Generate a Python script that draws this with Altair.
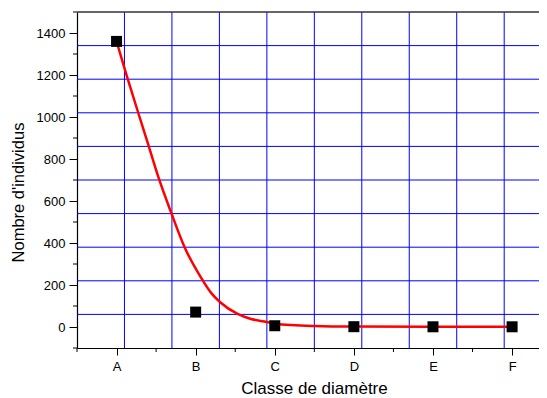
import altair as alt
import pandas as pd

# Diameter classes and observed counts (black squares)
classes = ["A", "B", "C", "D", "E", "F"]
counts = [1360, 71, 6, 1.5, 1, 1]

# Points
fit_x = [1.00, 1.13, 1.27, 1.39, 1.53, 1.69, 1.86, 2.06, 2.20, 2.31, 2.53, 2.69, 2.90, 3.00, 3.50, 4.00, 5.00, 6.00]
fit_y = [1360, 1195, 1025, 882, 712, 545, 380, 240, 160, 118, 62, 39, 24, 16, 5, 2, 1, 1]

# Axis tick values and grid-line values
x_major = [1, 2, 3, 4, 5, 6]
x_minor = [0.5, 1.5, 2.5, 3.5, 4.5, 5.5]
y_major = [0, 200, 400, 600, 800, 1000, 1200, 1400]
y_minor = [-100, 100, 300, 500, 700, 900, 1100, 1300, 1500]
grid_x = [1.1, 1.7, 2.3, 2.9, 3.5, 4.1, 4.7, 5.3, 5.9]
grid_y = [60, 220, 380, 540, 700, 860, 1020, 1180, 1340]
y_top = [1500]

pts = pd.DataFrame({"pos": x_major, "classe": classes, "n": counts})
fit = pd.DataFrame({"x": fit_x, "y": fit_y})

W, H = 462, 336
xscale = alt.Scale(domain=[0.5, 6.34], nice=False, zero=False)
yscale = alt.Scale(domain=[-100, 1500], nice=False, zero=False)

label_arr = "[" + ",".join("'%s'" % c for c in classes) + "]"
x_label_expr = "datum.value >= 1 && datum.value <= 6 ? %s[datum.value - 1] : ''" % label_arr

x_axis = alt.Axis(
    values=x_major,
    tickSize=7,
    labelPadding=5,
    labelExpr=x_label_expr,
    labelOverlap=False,
    labelFlush=False,
    title="Classe de diamètre",
    titleX=237,
    titleY=45.5,
    titleBaseline="alphabetic",
    titleFontSize=17,
)
y_axis = alt.Axis(
    values=y_major,
    tickSize=8,
    labelPadding=4,
    format="d",
    labelOverlap=False,
    labelFlush=False,
    title="Nombre d'individus",
    titleX=-54,
    titleY=180,
    titleBaseline="alphabetic",
)

grid_v = alt.Chart(pd.DataFrame({"v": grid_x})).mark_rule(color="#0000ff", strokeWidth=1).encode(
    x=alt.X("v:Q", scale=xscale, axis=x_axis)
)
grid_h = alt.Chart(pd.DataFrame({"v": grid_y})).mark_rule(color="#0000ff", strokeWidth=1).encode(
    y=alt.Y("v:Q", scale=yscale, axis=y_axis)
)
top_border = alt.Chart(pd.DataFrame({"v": y_top})).mark_rule(color="#333333", strokeWidth=1.5).encode(
    y=alt.Y("v:Q", scale=yscale, axis=y_axis)
)
minor_x = alt.Chart(pd.DataFrame({"v": x_minor})).mark_rule(color="black", strokeWidth=1).encode(
    x=alt.X("v:Q", scale=xscale, axis=x_axis),
    y=alt.value(H),
    y2=alt.value(H + 4),
)
minor_y = alt.Chart(pd.DataFrame({"v": y_minor})).mark_rule(color="black", strokeWidth=1).encode(
    y=alt.Y("v:Q", scale=yscale, axis=y_axis),
    x=alt.value(0),
    x2=alt.value(-4),
)
curve = alt.Chart(fit).mark_line(color="#ff0000", strokeWidth=2.5, interpolate="monotone").encode(
    x=alt.X("x:Q", scale=xscale, axis=x_axis),
    y=alt.Y("y:Q", scale=yscale, axis=y_axis),
)
points = alt.Chart(pts).mark_square(color="black", size=121, opacity=1, filled=True).encode(
    x=alt.X("pos:Q", scale=xscale, axis=x_axis),
    y=alt.Y("n:Q", scale=yscale, axis=y_axis),
)

chart = (
    alt.layer(grid_v, grid_h, top_border, minor_x, minor_y, curve, points)
    .properties(
        width=W,
        height=H,
        autosize=alt.AutoSizeParams(type="none"),
        padding={"left": 69, "top": 4, "right": 0, "bottom": 50},
    )
    .configure_view(strokeWidth=0)
    .configure_axis(
        grid=False,
        domainColor="black",
        domainWidth=1.2,
        tickColor="black",
        tickWidth=1,
        labelColor="black",
        labelFont="Liberation Sans",
        labelFontSize=13,
        titleFont="Liberation Sans",
        titleFontSize=16.5,
        titleFontWeight="normal",
        titleColor="black",
    )
)

chart.save("out.html", embed_options={"renderer": "svg", "actions": False})
